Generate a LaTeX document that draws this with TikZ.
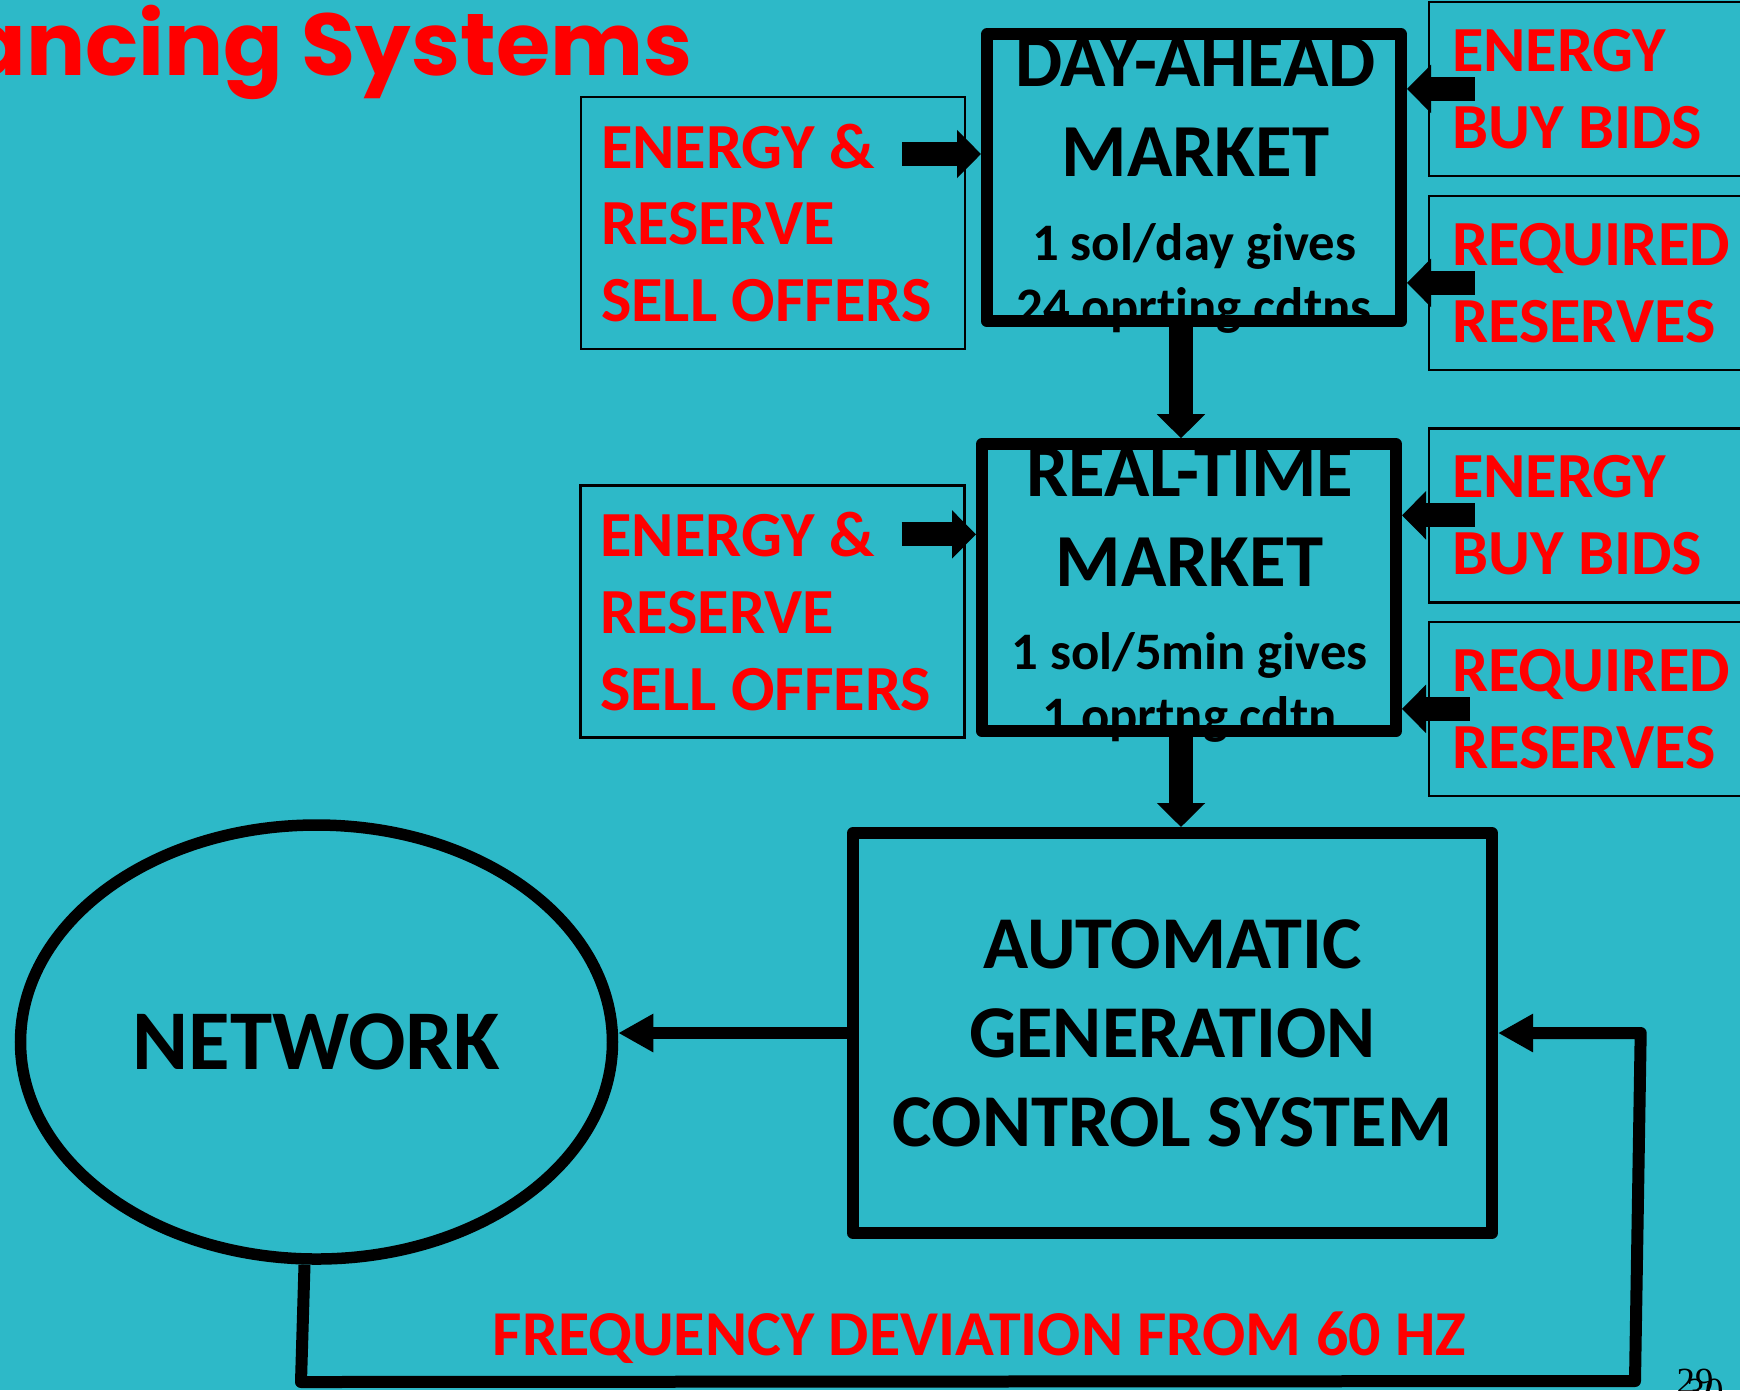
\documentclass[tikz,border=0pt]{standalone}
\usepackage{fontspec}
\setmainfont{Carlito}[Ligatures=CommonOff]
\newfontfamily\comicfont{Poppins}
\newfontfamily\slidenumfont{Liberation Serif}
\usetikzlibrary{arrows.meta,shapes.geometric}
\definecolor{slideteal}{RGB}{45,185,200}
\definecolor{offerred}{RGB}{255,0,0}

\begin{document}
\begin{tikzpicture}[
    font=\bfseries,
    market/.style={draw, line width=1.2mm, line join=round, minimum width=4.14cm, minimum height=2.87cm, inner sep=0pt},
    mkttitle/.style={font=\bfseries\fontsize{21.3}{25.6}\selectfont, align=flush center},
    mktnote/.style={font=\bfseries\fontsize{15}{18.2}\selectfont, align=flush center},
    offerbox/.style={draw, line width=0.7pt, text=offerred, align=flush left, font=\bfseries\fontsize{18.3}{21.9}\selectfont, inner xsep=0.2cm, text width=3.44cm, minimum height=2.52cm},
    bidbox/.style={draw, line width=0.7pt, text=offerred, align=flush left, font=\bfseries\fontsize{18.3}{21.9}\selectfont, inner xsep=0.23cm, text width=2.85cm, minimum height=1.74cm},
    fat/.style={line width=2.4mm, -{Triangle[length=2.4mm,width=4.7mm]}},
    link/.style={line width=1.2mm, line join=round, -{Triangle[length=3.5mm,width=3.6mm]}}
]

% slide background
\fill[slideteal] (0,0) rectangle (17.4,-13.9);
\useasboundingbox (0,0) rectangle (17.4,-13.9);

% cut title
\node[anchor=base east, text=offerred, inner sep=0pt, font=\comicfont\bfseries\fontsize{25}{30}\selectfont] (title) at (6.93,-0.75) {ancing Systems};

% markets and control
\node[market] (dam) at (11.94,-1.778) {};
\node[market] (rtm) at (11.89,-5.877) {};
\node[market, minimum width=6.39cm, minimum height=4cm, align=flush center, font=\bfseries\fontsize{21.2}{25.3}\selectfont] (agc) at (11.725,-10.33) {AUTOMATIC\\GENERATION\\CONTROL SYSTEM};
\node[draw, ellipse, line width=1.15mm, minimum width=5.92cm, minimum height=4.34cm, inner sep=0pt, font=\bfseries\fontsize{24.2}{28}\selectfont] (net) at (3.165,-10.42) {NETWORK};

\node[mkttitle, anchor=base] (damtitle) at (11.955,-1.767) {DAY-AHEAD\\MARKET};
\node[mktnote, anchor=base] (damnote) at (11.94,-3.24) {1 sol/day gives\\24 oprting cdtns};
\node[mkttitle, anchor=base] (rtmtitle) at (11.896,-5.867) {REAL-TIME\\MARKET};
\node[mktnote, anchor=base] (rtmnote) at (11.896,-7.33) {1 sol/5min gives\\1 oprtng cdtn};

% offers and bids
\node[offerbox] (dasell) at (7.73,-2.23) {ENERGY \&\\RESERVE\\SELL OFFERS};
\node[offerbox] (rtsell) at (7.724,-6.114) {ENERGY \&\\RESERVE\\SELL OFFERS};
\node[bidbox] (dabuy) at (15.945,-0.889) {ENERGY\\BUY BIDS};
\node[bidbox] (dares) at (15.945,-2.8285) {REQUIRED\\RESERVES};
\node[bidbox] (rtbuy) at (15.945,-5.153) {ENERGY\\BUY BIDS};
\node[bidbox] (rtres) at (15.945,-7.0885) {REQUIRED\\RESERVES};

\draw[fat] ([xshift=-6.4mm,yshift=6.9mm]dasell.east) -- ([yshift=6.9mm]dasell.east -| dam.west);
\draw[fat] ([xshift=-6.4mm,yshift=7.7mm]rtsell.east) -- ([yshift=7.7mm]rtsell.east -| rtm.west);
\draw[fat] ([xshift=4.7mm]dabuy.west) -- (dabuy.west -| dam.east);
\draw[fat] ([xshift=4.7mm]dares.west) -- (dares.west -| dam.east);
\draw[fat] ([xshift=4.7mm]rtbuy.west) -- (rtbuy.west -| rtm.east);
\draw[fat] ([xshift=4.2mm]rtres.west) -- (rtres.west -| rtm.east);
\draw[fat] ([xshift=-1.3mm]dam.south) -- ([xshift=-1.3mm]dam.south |- rtm.north);
\draw[fat] ([xshift=-0.8mm]rtm.south) -- ([xshift=-0.8mm]rtm.south |- agc.north);

% control loop
\draw[link] (agc.west) -- (agc.west -| net.east);
\coordinate (netdrop) at (3.01,-13.82);
\coordinate (loopend) at (16.35,-13.81);
\coordinate (looptop) at (16.407,-10.33);
\draw[link] ([xshift=-1.2mm]net.south) -- (netdrop) -- (loopend) -- (looptop) -- (agc.east);
\node[anchor=base, text=offerred, font=\bfseries\fontsize{18.2}{22}\selectfont] (freq) at (9.795,-13.55) {FREQUENCY DEVIATION FROM 60 HZ};

% slide number
\node[anchor=base west, inner sep=0pt, font=\slidenumfont\fontsize{10.5}{12}\selectfont] (pgnum) at (16.76,-13.93) {29};
\node[anchor=base west, inner sep=0pt, font=\slidenumfont\fontsize{10.5}{12}\selectfont] (pgnumb) at (16.86,-14.03) {30};

\end{tikzpicture}
\end{document}
